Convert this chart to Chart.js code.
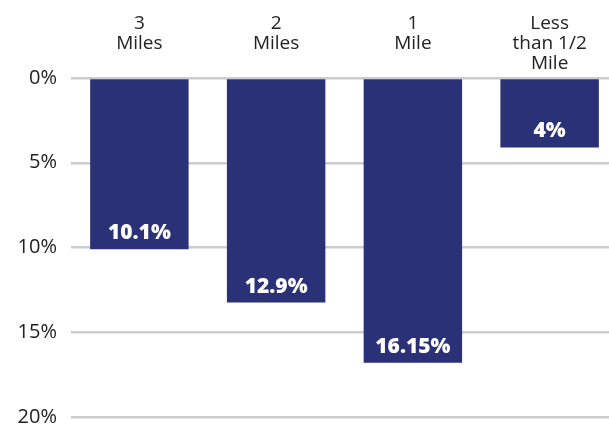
<!DOCTYPE html>
<html>
<head>
<meta charset="utf-8">
<script src="https://cdn.jsdelivr.net/npm/chart.js@4.4.0/dist/chart.umd.min.js"></script>
<style>
  html, body { margin: 0; padding: 0; background: #fff; overflow: hidden; }
  #wrap { width: 609px; height: 428px; overflow: hidden; }
</style>
</head>
<body>
<div id="wrap"><canvas id="myChart" width="618" height="443"></canvas></div>
<script>
var categories = [["3", "Miles"], ["2", "Miles"], ["1", "Mile"], ["Less", "than 1/2", "Mile"]];
var values = [10.1, 13.25, 16.8, 4.1];
var valueLabels = ["10.1%", "12.9%", "16.15%", "4%"];
var yTicks = [0, 5, 10, 15, 20];

var barLabels = {
  id: "barLabels",
  afterDatasetsDraw: function(chart) {
    var ctx = chart.ctx;
    var meta = chart.getDatasetMeta(0);
    ctx.save();
    ctx.fillStyle = "#ffffff";
    ctx.font = "800 21px 'Open Sans'";
    ctx.textAlign = "center";
    ctx.textBaseline = "alphabetic";
    meta.data.forEach(function(bar, i) {
      ctx.fillText(valueLabels[i], bar.x, bar.y - 10);
    });
    ctx.restore();
  }
};

const ctx = document.getElementById("myChart").getContext("2d");
var chart = new Chart(ctx, {
  type: "bar",
  data: {
    labels: categories,
    datasets: [
      {
        data: values,
        backgroundColor: "#2b3177",
        barPercentage: 0.72,
        categoryPercentage: 1
      }
    ]
  },
  options: {
    responsive: false,
    animation: false,
    layout: { padding: 0 },
    plugins: {
      legend: { display: false },
      tooltip: { enabled: false }
    },
    scales: {
      x: {
        position: "top",
        grid: { display: false, drawTicks: false },
        border: { display: false },
        ticks: {
          color: "#222",
          font: { family: "Open Sans", size: 19, lineHeight: 1.04 },
          padding: 5,
          crossAlign: "far",
          maxRotation: 0,
          autoSkip: false
        },
        afterFit: function(scale) { scale.height = 78; }
      },
      y: {
        reverse: true,
        min: 0,
        max: 20,
        afterBuildTicks: function(scale) {
          scale.ticks = yTicks.map(function(v) { return { value: v }; });
        },
        grid: { color: "#cccccc", lineWidth: 2.5, drawTicks: false },
        border: { display: false },
        ticks: {
          color: "#222",
          font: { family: "Open Sans", size: 20 },
          padding: 14,
          callback: function(v) { return v + "%"; }
        },
        afterFit: function(scale) { scale.width = 71; }
      }
    }
  },
  plugins: [barLabels]
});
</script>
</body>
</html>
